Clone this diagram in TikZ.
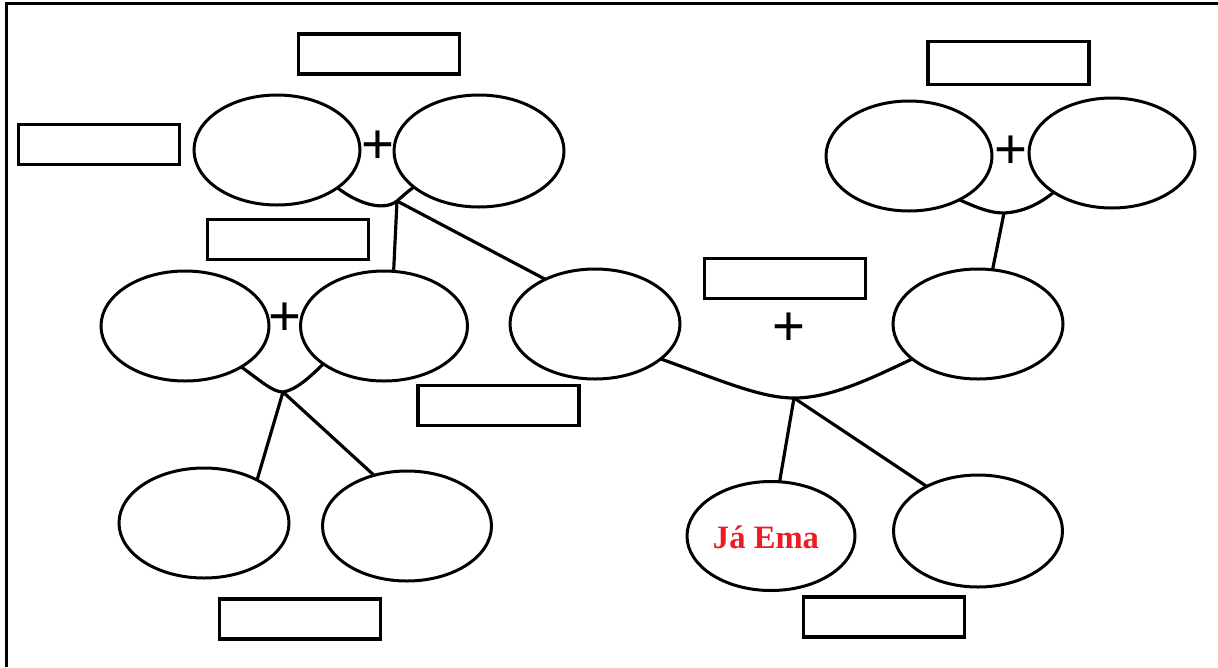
\documentclass[tikz,border=0pt]{standalone}
\usepackage{fontspec}
\setmainfont{Liberation Serif}
\newfontfamily\plusfont{Liberation Sans}
\usetikzlibrary{shapes.geometric}
\newdimen\pxu \pxu=0.567pt
\definecolor{jared}{RGB}{237,28,36}
\begin{document}
\begin{tikzpicture}[x=0.567pt,y=-0.567pt,
  oval/.style={draw, ellipse, line width=1.7pt, inner sep=0pt, outer sep=0pt, minimum width=168\pxu, minimum height=110\pxu},
  labelbox/.style={draw, rectangle, line width=2pt, inner sep=0pt, outer sep=0pt, minimum width=161\pxu, minimum height=40\pxu},
  link/.style={line width=1.8pt},
  plus/.style={inner sep=0pt, font=\plusfont\fontsize{32}{32}\selectfont}]
\useasboundingbox (0,0) rectangle (1218,667);
% frame
\coordinate (fTL) at (6.5,3.5);
\coordinate (fBL) at (6.5,667);
\coordinate (fTR) at (1218,3.5);
\draw[line width=1.3pt] (fBL) -- (fTL) -- (fTR);
% rectangles
\node[labelbox] (R1) at (379,54) {};
\node[labelbox] (R2) at (99,144.5) {};
\node[labelbox] (R3) at (288,239.5) {};
\node[labelbox] (R4) at (498.5,405.5) {};
\node[labelbox] (R5) at (785,278.5) {};
\node[labelbox, minimum height=43\pxu] (R6) at (1008.5,63) {};
\node[labelbox] (R7) at (300,619) {};
\node[labelbox] (R8) at (884,617) {};
% ellipses
\node[oval, minimum width=166\pxu] (E1) at (277,150) {};
\node[oval, minimum width=170\pxu, minimum height=112\pxu] (E2) at (479,151) {};
\node[oval] (E3) at (185,326) {};
\node[oval, minimum width=167\pxu] (E4) at (384,326) {};
\node[oval, minimum width=170\pxu] (E5) at (595,324) {};
\node[oval, minimum width=170\pxu] (E6) at (978,324) {};
\node[oval, minimum width=166\pxu] (E7) at (909,156) {};
\node[oval, minimum width=166\pxu] (E8) at (1112,153) {};
\node[oval, minimum width=170\pxu] (E9) at (204,523) {};
\node[oval, minimum width=169\pxu] (E10) at (407,526) {};
\node[oval, minimum height=109\pxu] (E11) at (771,536) {};
\node[oval, minimum width=169\pxu, minimum height=112\pxu] (E12) at (978,531) {};
\node[text=jared, font=\bfseries\fontsize{18.5}{20}\selectfont] (T) at (766,537) {Já Ema};
% plus signs
\node[plus] (P1) at (378,147) {+};
\node[plus] (P2) at (285,319) {+};
\node[plus] (P3) at (1011,152) {+};
\node[plus] (P4) at (789,329) {+};
% junctions
\coordinate (J1) at (397,201);
\coordinate (J2) at (283,392);
\coordinate (J3) at (1004,213);
\coordinate (J4) at (794,398);
% top-left family
\draw[link] (E1.-32) .. controls (357,203) and (383,212) .. (J1) .. controls (403,196) and (408,191) .. (E2.-151);
\draw[link] (J1) -- (E4.80);
\draw[link] (J1) -- (E5.138);
% mid-left family
\draw[link] (E3.-36) .. controls (262,382) and (273,392) .. (J2) .. controls (296,390) and (310,377) .. (E4.-148);
\draw[link] (J2) -- (E9.39);
\draw[link] (J2) -- (E10.123);
% top-right family
\draw[link] (E7.-41) .. controls (978,208) and (990,213) .. (J3) .. controls (1022,212) and (1038,205) .. (E8.-146);
\draw[link] (J3) -- (E6.75);
% centre family
\draw[link] (E5.-28) .. controls (720,380) and (760,398) .. (J4) .. controls (830,398) and (868,380) .. (E6.-152);
\draw[link] (J4) -- (E11.81);
\draw[link] (J4) -- (E12.139);
\end{tikzpicture}
\end{document}
